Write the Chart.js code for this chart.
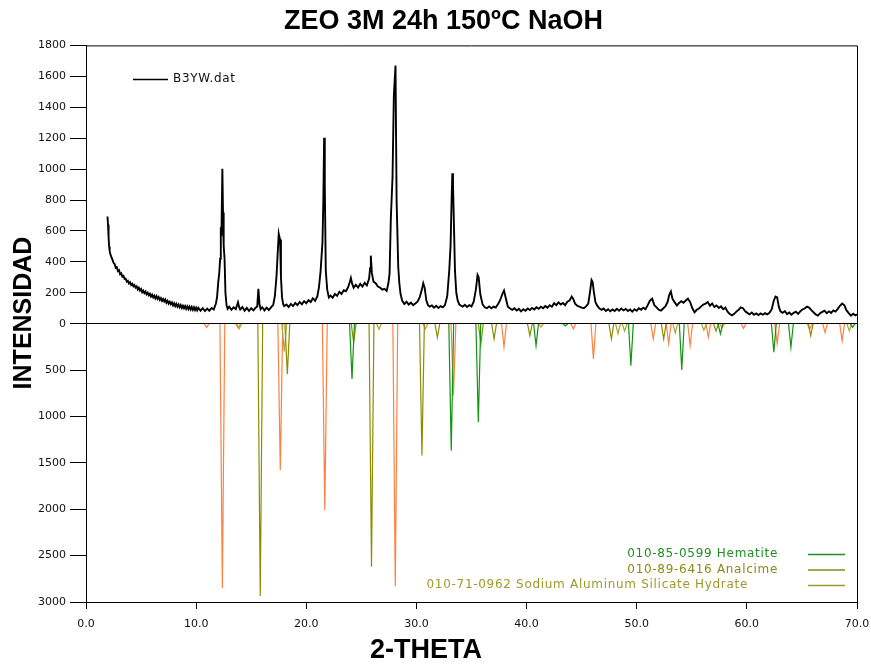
<!DOCTYPE html>
<html>
<head>
<meta charset="utf-8">
<title>ZEO 3M 24h 150ºC NaOH</title>
<script src="https://cdn.jsdelivr.net/npm/chart.js@4.4.1/dist/chart.umd.min.js"></script>
<style>
  html, body { margin: 0; padding: 0; background: #fff; }
  #wrap { width: 871px; height: 664px; }
</style>
</head>
<body>
<div id="wrap"><canvas id="xrd" width="871" height="664"></canvas></div>
<script>
// measured pattern B3YW.dat (2-theta, counts)
const thetaObs = [
  1.95, 2.00, 2.05, 2.10, 2.15, 2.20, 2.30, 2.40, 2.50, 2.60,
  2.70, 2.80, 2.90, 3.00, 3.10, 3.20, 3.30, 3.40, 3.50, 3.60,
  3.70, 3.80, 3.90, 4.00, 4.10, 4.20, 4.30, 4.40, 4.50, 4.60,
  4.70, 4.80, 4.90, 5.00, 5.10, 5.20, 5.30, 5.40, 5.50, 5.60,
  5.70, 5.80, 5.90, 6.00, 6.10, 6.20, 6.30, 6.40, 6.50, 6.60,
  6.70, 6.80, 6.90, 7.00, 7.10, 7.20, 7.30, 7.40, 7.50, 7.60,
  7.70, 7.80, 7.90, 8.00, 8.10, 8.20, 8.30, 8.40, 8.50, 8.60,
  8.70, 8.80, 8.90, 9.00, 9.10, 9.20, 9.30, 9.40, 9.50, 9.60,
  9.70, 9.80, 9.90, 10.00, 10.10, 10.20, 10.40, 10.60, 10.80, 11.00,
  11.20, 11.40, 11.60, 11.70, 11.80, 11.90, 12.00, 12.10, 12.18, 12.24,
  12.30, 12.38, 12.44, 12.50, 12.58, 12.66, 12.76, 12.86, 13.00, 13.20,
  13.40, 13.60, 13.80, 13.90, 14.00, 14.20, 14.40, 14.60, 14.80, 15.00,
  15.20, 15.40, 15.55, 15.65, 15.75, 15.85, 16.00, 16.20, 16.40, 16.60,
  16.80, 17.00, 17.15, 17.30, 17.40, 17.50, 17.56, 17.62, 17.70, 17.80,
  17.90, 18.00, 18.20, 18.40, 18.60, 18.80, 19.00, 19.20, 19.40, 19.60,
  19.80, 20.00, 20.20, 20.40, 20.60, 20.80, 21.00, 21.15, 21.30, 21.40,
  21.47, 21.55, 21.62, 21.68, 21.77, 21.90, 22.05, 22.20, 22.40, 22.60,
  22.80, 23.00, 23.20, 23.40, 23.60, 23.80, 23.95, 24.05, 24.15, 24.30,
  24.50, 24.70, 24.90, 25.10, 25.30, 25.50, 25.70, 25.80, 25.86, 25.95,
  26.10, 26.30, 26.50, 26.70, 26.90, 27.10, 27.30, 27.45, 27.56, 27.68,
  27.83, 27.95, 28.10, 28.20, 28.35, 28.45, 28.56, 28.70, 28.90, 29.10,
  29.30, 29.50, 29.70, 29.90, 30.10, 30.30, 30.50, 30.62, 30.75, 30.90,
  31.05, 31.20, 31.40, 31.60, 31.80, 32.00, 32.20, 32.40, 32.60, 32.80,
  32.98, 33.10, 33.20, 33.26, 33.32, 33.38, 33.50, 33.62, 33.75, 33.90,
  34.05, 34.20, 34.40, 34.60, 34.80, 35.00, 35.20, 35.40, 35.55, 35.65,
  35.80, 36.00, 36.20, 36.40, 36.60, 36.80, 37.00, 37.20, 37.40, 37.60,
  37.80, 37.95, 38.10, 38.30, 38.50, 38.70, 38.90, 39.10, 39.30, 39.50,
  39.70, 39.90, 40.10, 40.30, 40.50, 40.70, 40.90, 41.10, 41.30, 41.50,
  41.70, 41.90, 42.10, 42.30, 42.50, 42.70, 42.90, 43.10, 43.30, 43.50,
  43.70, 43.90, 44.10, 44.25, 44.40, 44.60, 44.80, 45.00, 45.20, 45.40,
  45.60, 45.75, 45.90, 46.00, 46.10, 46.25, 46.40, 46.60, 46.80, 47.00,
  47.20, 47.40, 47.60, 47.80, 48.00, 48.20, 48.40, 48.60, 48.80, 49.00,
  49.20, 49.40, 49.60, 49.80, 50.00, 50.20, 50.40, 50.60, 50.80, 51.00,
  51.20, 51.40, 51.60, 51.80, 52.00, 52.20, 52.40, 52.60, 52.80, 52.95,
  53.10, 53.25, 53.45, 53.65, 53.85, 54.05, 54.25, 54.45, 54.65, 54.85,
  55.05, 55.25, 55.45, 55.65, 55.85, 56.05, 56.25, 56.45, 56.65, 56.85,
  57.05, 57.25, 57.45, 57.65, 57.85, 58.05, 58.25, 58.45, 58.65, 58.85,
  59.05, 59.25, 59.45, 59.65, 59.85, 60.05, 60.25, 60.45, 60.65, 60.85,
  61.05, 61.25, 61.45, 61.65, 61.85, 62.05, 62.25, 62.45, 62.60, 62.75,
  62.90, 63.05, 63.25, 63.45, 63.65, 63.85, 64.05, 64.25, 64.45, 64.65,
  64.85, 65.05, 65.25, 65.45, 65.65, 65.85, 66.05, 66.25, 66.45, 66.65,
  66.85, 67.05, 67.25, 67.45, 67.65, 67.85, 68.05, 68.25, 68.45, 68.65,
  68.85, 69.05, 69.25, 69.45, 69.65, 69.85, 70.00
];
const countsObs = [
  693, 640, 560, 500, 470, 452, 432, 414, 394, 386,
  362, 366, 340, 346, 320, 326, 304, 310, 290, 292,
  272, 278, 260, 268, 250, 258, 242, 250, 234, 242,
  222, 232, 214, 224, 204, 214, 198, 208, 190, 200,
  184, 194, 176, 188, 170, 182, 164, 178, 160, 172,
  154, 166, 148, 160, 144, 156, 136, 148, 130, 142,
  126, 138, 118, 132, 114, 128, 110, 124, 106, 120,
  102, 116, 100, 114, 96, 112, 94, 110, 92, 108,
  90, 106, 88, 104, 86, 102, 84, 100, 82, 98,
  84, 102, 92, 112, 132, 172, 262, 330, 420, 600,
  590, 1002, 720, 505, 420, 200, 120, 96, 110, 90,
  106, 94, 138, 108, 92, 108, 84, 102, 82, 100,
  86, 104, 112, 225, 128, 94, 106, 86, 104, 88,
  106, 122, 180, 311, 450, 581, 560, 545, 300, 170,
  127, 114, 124, 108, 128, 114, 134, 120, 140, 126,
  146, 132, 152, 140, 164, 148, 176, 235, 340, 450,
  527, 800, 1202, 900, 343, 220, 170, 182, 168, 192,
  180, 206, 192, 216, 210, 236, 270, 296, 262, 232,
  252, 234, 258, 240, 264, 248, 290, 360, 440, 330,
  272, 262, 240, 234, 220, 226, 212, 260, 322, 688,
  947, 1476, 1670, 796, 365, 260, 192, 150, 128, 142,
  124, 136, 120, 130, 142, 172, 222, 262, 232, 150,
  120, 110, 118, 104, 116, 102, 114, 106, 122, 180,
  345, 505, 820, 973, 900, 721, 343, 200, 149, 124,
  116, 110, 122, 108, 120, 112, 142, 222, 315, 300,
  190, 126, 106, 100, 112, 100, 110, 104, 126, 152,
  192, 214, 170, 110, 98, 90, 100, 86, 96, 80,
  94, 84, 98, 88, 102, 92, 106, 96, 110, 100,
  114, 104, 120, 110, 132, 120, 138, 124, 134, 120,
  142, 150, 175, 158, 130, 116, 110, 104, 100, 112,
  130, 200, 283, 270, 210, 140, 118, 100, 90, 98,
  82, 94, 80, 92, 82, 96, 84, 98, 86, 96,
  82, 92, 78, 94, 84, 100, 90, 104, 94, 120,
  150, 162, 120, 106, 90, 84, 98, 112, 140, 185,
  208, 160, 138, 118, 134, 146, 136, 150, 162, 140,
  100, 74, 90, 98, 112, 124, 130, 140, 116, 130,
  108, 118, 102, 112, 94, 104, 78, 62, 54, 64,
  78, 90, 106, 100, 80, 70, 60, 72, 58, 66,
  56, 66, 58, 68, 60, 70, 92, 150, 176, 170,
  110, 80, 70, 82, 62, 72, 58, 70, 78, 64,
  80, 92, 98, 110, 104, 88, 74, 60, 52, 68,
  76, 84, 68, 80, 70, 86, 78, 96, 116, 130,
  120, 86, 68, 52, 64, 54, 60
];

// reference patterns (peak 2-theta, intensity), drawn downward
const naP1Pos = [10.95, 12.38, 13.80, 17.64, 21.68, 28.08, 30.80, 33.36, 37.95, 41.30, 44.25,
                 46.07, 51.50, 52.90, 54.85, 56.50, 57.75, 59.70, 62.75, 65.70, 67.10, 68.65];
const naP1Int = [40, 2850, 45, 1580, 2010, 2830, 57, 775, 250, 35, 57,
                 380, 165, 215, 235, 145, 45, 50, 215, 60, 95, 185];

const hematitePos = [24.15, 33.16, 35.62, 40.86, 43.52, 49.47, 54.09, 57.60, 62.45, 64.00, 69.60];
const hematiteInt = [595, 1370, 1060, 236, 25, 452, 498, 111, 308, 255, 40];

const analcimePos = [15.82, 18.28, 24.30, 25.92, 30.50, 31.90, 35.85, 37.05, 40.30, 47.70, 52.45, 57.20, 65.80];
const analcimeInt = [2935, 545, 200, 2620, 1420, 147, 218, 165, 129, 165, 165, 80, 129];

const sashPos = [13.90, 18.00, 26.60, 48.30, 48.90, 53.50, 56.10, 69.30];
const sashInt = [55, 300, 60, 108, 80, 100, 70, 75];

const obsLabel = "B3YW.dat";
const refLabels = [
  "010-85-0599 Hematite",
  "010-89-6416 Analcime",
  "010-71-0962 Sodium Aluminum Silicate Hydrate",
];

const xTicks = [0, 10, 20, 30, 40, 50, 60, 70];

const PEAK_HALF_WIDTH = 0.22;
const TICK_FONT = { family: "'DejaVu Sans', Verdana, sans-serif", size: 11 };

const toSpikes = (pos, hgt) => {
  const pts = [];
  pos.forEach((p, i) => {
    pts.push({ x: p - PEAK_HALF_WIDTH, y: 0 });
    pts.push({ x: p, y: hgt[i] });
    pts.push({ x: p + PEAK_HALF_WIDTH, y: 0 });
    pts.push({ x: p + PEAK_HALF_WIDTH, y: null });
  });
  return pts;
};

const refDataset = (label, pos, hgt, color, keyColor) => ({
  label: label,
  data: toSpikes(pos, hgt),
  yAxisID: "yRef",
  borderColor: color,
  keyColor: keyColor,
  borderWidth: 1.2,
  pointRadius: 0,
  spanGaps: false,
  tension: 0,
});

const xrdDecor = {
  id: "xrdDecor",
  afterDraw(chart, args, opts) {
    const { ctx, chartArea: { left, top, right, bottom } } = chart;
    ctx.save();

    // frame top and right
    ctx.strokeStyle = "#000";
    ctx.lineWidth = 1;
    ctx.beginPath();
    ctx.moveTo(left, top + 0.5);
    ctx.lineTo(right + 0.5, top + 0.5);
    ctx.lineTo(right + 0.5, bottom);
    ctx.stroke();

    // axis titles
    ctx.fillStyle = "#000";
    ctx.textAlign = "center";
    ctx.textBaseline = "middle";
    ctx.font = "bold 27px 'Liberation Sans', Arial, sans-serif";
    ctx.fillText(opts.xTitle, 426, 651);
    ctx.save();
    ctx.translate(24, 313);
    ctx.rotate(-Math.PI / 2);
    ctx.font = "bold 25px 'Liberation Sans', Arial, sans-serif";
    ctx.fillText(opts.yTitle, 0, 0);
    ctx.restore();

    // keys
    ctx.font = "12px 'DejaVu Sans', Verdana, sans-serif";
    if ("letterSpacing" in ctx) ctx.letterSpacing = "0.7px";
    ctx.lineWidth = 1.5;

    const obs = chart.data.datasets[0];
    ctx.strokeStyle = obs.borderColor;
    ctx.beginPath();
    ctx.moveTo(133, 79.5);
    ctx.lineTo(168, 79.5);
    ctx.stroke();
    ctx.fillStyle = "#111";
    ctx.textAlign = "left";
    ctx.fillText(obs.label, 173, 79);

    const keyed = chart.data.datasets.filter((d) => d.keyColor);
    const textRight = [778, 778, 748];
    keyed.forEach((d, i) => {
      const y = 554 + i * 15.5;
      ctx.strokeStyle = d.keyColor;
      ctx.beginPath();
      ctx.moveTo(808, y + 0.5);
      ctx.lineTo(845, y + 0.5);
      ctx.stroke();
      ctx.fillStyle = d.keyColor;
      ctx.textAlign = "right";
      ctx.fillText(d.label, textRight[i], y);
    });
    ctx.restore();
  },
};

const axisBorder = { display: true, color: "#000", width: 1 };

new Chart(document.getElementById("xrd"), {
  type: "line",
  data: {
    datasets: [
      {
        label: obsLabel,
        data: thetaObs.map((t, i) => ({ x: t, y: countsObs[i] })),
        yAxisID: "yObs",
        borderColor: "#000",
        borderWidth: 1.9,
        pointRadius: 0,
        tension: 0,
      },
      refDataset(refLabels[0], hematitePos, hematiteInt, "#119411", "#1f8f1f"),
      refDataset(refLabels[1], analcimePos, analcimeInt, "#8c8c00", "#8a8a14"),
      refDataset(refLabels[2], sashPos, sashInt, "#a8a830", "#9b9b2c"),
      refDataset("", naP1Pos, naP1Int, "#ff8040", null),
    ],
  },
  options: {
    responsive: false,
    animation: false,
    layout: { padding: { left: 30, right: 14, top: 0, bottom: 0 } },
    scales: {
      x: {
        type: "linear",
        min: 0,
        max: 70,
        afterBuildTicks: (scale) => {
          scale.ticks = xTicks.map((v) => ({ value: v }));
        },
        ticks: {
          callback: (v) => v.toFixed(1),
          font: TICK_FONT,
          color: "#111",
          padding: 9,
          maxRotation: 0,
          autoSkip: false,
        },
        grid: { drawOnChartArea: false, tickLength: 7, tickColor: "#000" },
        border: axisBorder,
        afterFit: (scale) => {
          scale.height = 62;
          scale.paddingLeft = 0;
          scale.paddingRight = 0;
        },
      },
      yRef: {
        type: "linear",
        position: "left",
        stack: "xrd",
        stackWeight: 1,
        reverse: true,
        min: 0,
        max: 3000,
        ticks: {
          stepSize: 500,
          callback: (v) => (v === 0 ? "" : String(v)),
          font: TICK_FONT,
          color: "#111",
          padding: 4,
          autoSkip: false,
        },
        grid: { drawOnChartArea: false, tickLength: 16, tickColor: "#000" },
        border: axisBorder,
        afterFit: (scale) => {
          scale.width = 56;
        },
      },
      yObs: {
        type: "linear",
        position: "left",
        stack: "xrd",
        stackWeight: 1,
        min: 0,
        max: 1800,
        ticks: {
          stepSize: 200,
          callback: (v) => String(v),
          font: TICK_FONT,
          color: "#111",
          padding: 4,
          autoSkip: false,
        },
        grid: {
          drawOnChartArea: true,
          color: (c) => (c.tick && c.tick.value === 0 ? "#000" : "rgba(0,0,0,0)"),
          tickLength: 16,
          tickColor: "#000",
        },
        border: axisBorder,
        afterFit: (scale) => {
          scale.width = 56;
        },
      },
    },
    plugins: {
      legend: { display: false },
      tooltip: { enabled: false },
      title: {
        display: true,
        text: "ZEO 3M 24h 150ºC NaOH",
        color: "#000",
        font: { family: "'Liberation Sans', Arial, sans-serif", size: 27, weight: "bold" },
        padding: { top: 5, bottom: 8 },
      },
      xrdDecor: { xTitle: "2-THETA", yTitle: "INTENSIDAD" },
    },
  },
  plugins: [xrdDecor],
});
</script>
</body>
</html>
